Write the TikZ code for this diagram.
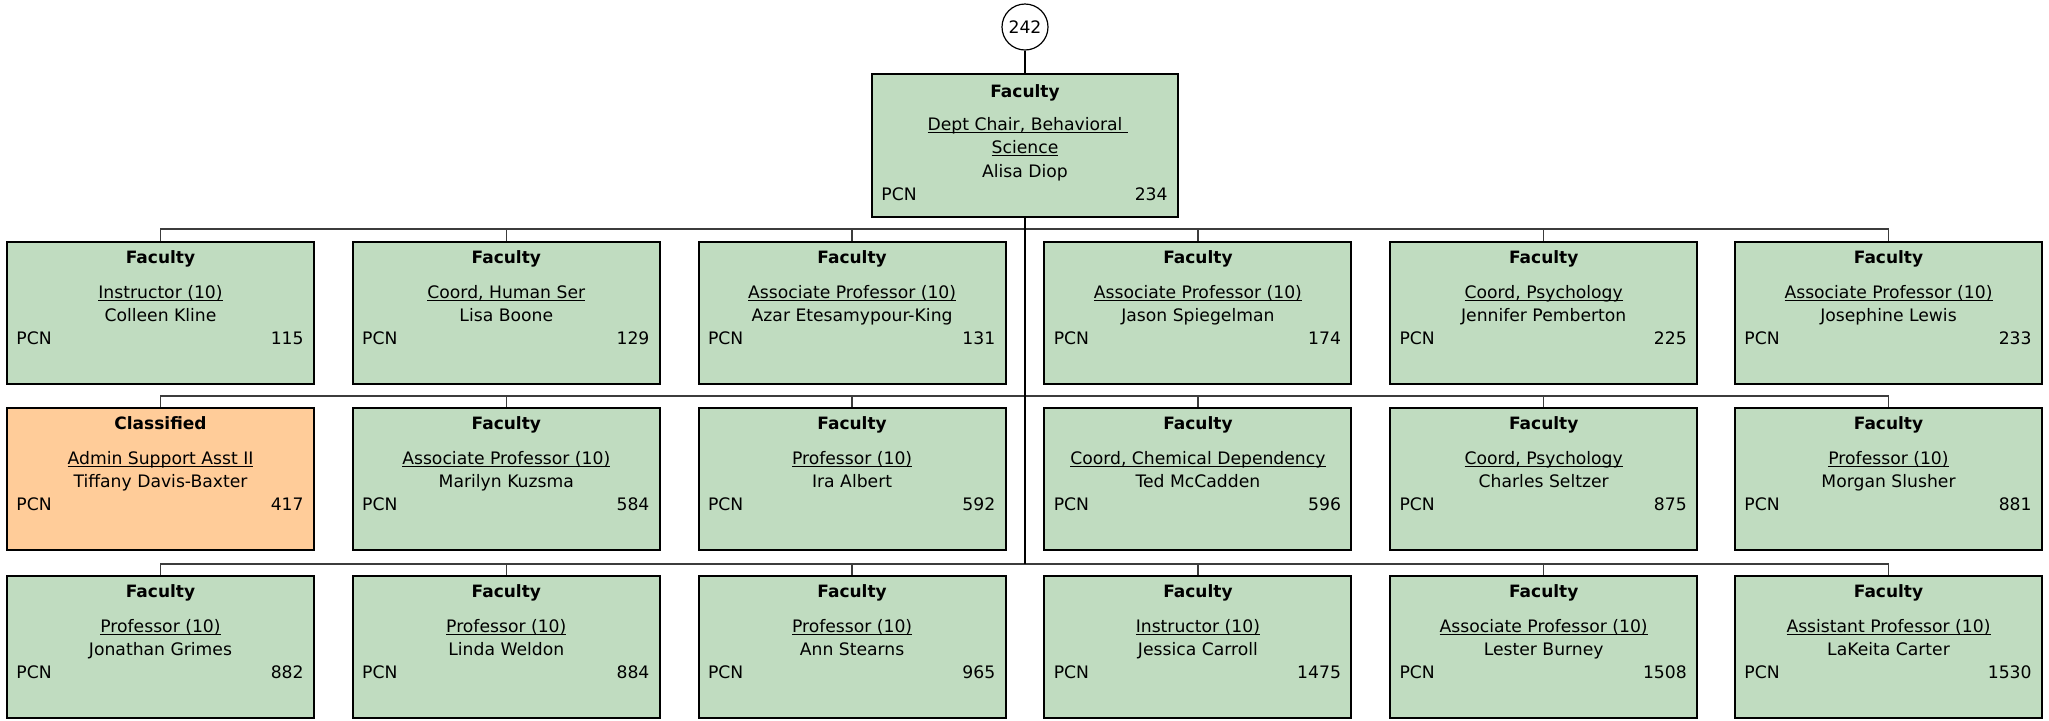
\documentclass[tikz,border=0pt]{standalone}
\usepackage{fontspec}
\setmainfont{DejaVu Sans}
\usetikzlibrary{calc}
\definecolor{boxgreen}{RGB}{192,220,192}
\definecolor{boxorange}{RGB}{255,204,153}
\definecolor{busgray}{RGB}{60,60,60}
\newlength\ulw
\newcommand\myul[1]{\settowidth\ulw{#1}\rlap{\rule[-1.5pt]{\ulw}{0.5pt}}#1}
\tikzset{
  posbox/.style={draw=black, line width=1pt, fill=boxgreen, minimum width=153.5pt, minimum height=71pt, inner sep=0pt, anchor=north},
  clsbox/.style={posbox, fill=boxorange},
  cattext/.style={font=\fontsize{8.5}{10}\selectfont\bfseries, anchor=base, inner sep=0pt},
  bodytext/.style={font=\fontsize{8.6}{10}\selectfont, anchor=base, inner sep=0pt},
  pcnl/.style={bodytext, anchor=base west},
  pcnr/.style={bodytext, anchor=base east},
  bus/.style={draw=busgray, line width=0.75pt},
  trunk/.style={draw=black, line width=1pt},
}
% #1 name, #2 x, #3 top y, #4 style, #5 category, #6 title, #7 person, #8 pcn
\newcommand\posnode[8]{%
  \node[#4] (#1) at (#2,#3) {};
  \node[cattext] (#1c) at ($(#1.north)+(0,22)$) {#5};
  \node[bodytext] (#1t) at ($(#1.north)+(0,57)$) {\myul{#6}};
  \node[bodytext] (#1n) at ($(#1.north)+(0,80)$) {#7};
  \node[pcnl] (#1p) at ($(#1.north west)+(10,103)$) {PCN};
  \node[pcnr] (#1v) at ($(#1.north east)+(-11,103)$) {#8};
}
\begin{document}
\begin{tikzpicture}[x=0.5pt,y=-0.5pt]
\useasboundingbox (0,0) rectangle (2049,720);
% circle
\node[draw=black, line width=0.6pt, circle, minimum size=23pt, inner sep=0pt, font=\fontsize{8.6}{10}\selectfont] (circ) at (1025,27) {242};
% top box
\node[posbox, minimum width=153pt, minimum height=71.5pt] (top) at (1025,73) {};
\node[cattext] (topc) at ($(top.north)+(0,24)$) {Faculty};
\node[bodytext] (topt1) at ($(top.north)+(0,57)$) {\myul{Dept Chair, Behavioral\ }};
\node[bodytext] (topt2) at ($(top.north)+(0,80)$) {\myul{Science}};
\node[bodytext] (topn) at ($(top.north)+(0,104)$) {Alisa Diop};
\node[pcnl] (topp) at ($(top.north west)+(10,127)$) {PCN};
\node[pcnr] (topv) at ($(top.north east)+(-11,127)$) {234};
% row 1
\posnode{a1}{160.5}{241}{posbox}{Faculty}{Instructor (10)}{Colleen Kline}{115}
\posnode{a2}{506.3}{241}{posbox}{Faculty}{Coord, Human Ser}{Lisa Boone}{129}
\posnode{a3}{852.1}{241}{posbox}{Faculty}{Associate Professor (10)}{Azar Etesamypour-King}{131}
\posnode{a4}{1197.9}{241}{posbox}{Faculty}{Associate Professor (10)}{Jason Spiegelman}{174}
\posnode{a5}{1543.7}{241}{posbox}{Faculty}{Coord, Psychology}{Jennifer Pemberton}{225}
\posnode{a6}{1888.5}{241}{posbox}{Faculty}{Associate Professor (10)}{Josephine Lewis}{233}
% row 2
\posnode{b1}{160.5}{407}{clsbox}{Classified}{Admin Support Asst II}{Tiffany Davis-Baxter}{417}
\posnode{b2}{506.3}{407}{posbox}{Faculty}{Associate Professor (10)}{Marilyn Kuzsma}{584}
\posnode{b3}{852.1}{407}{posbox}{Faculty}{Professor (10)}{Ira Albert}{592}
\posnode{b4}{1197.9}{407}{posbox}{Faculty}{Coord, Chemical Dependency}{Ted McCadden}{596}
\posnode{b5}{1543.7}{407}{posbox}{Faculty}{Coord, Psychology}{Charles Seltzer}{875}
\posnode{b6}{1888.5}{407}{posbox}{Faculty}{Professor (10)}{Morgan Slusher}{881}
% row 3
\posnode{c1}{160.5}{575}{posbox}{Faculty}{Professor (10)}{Jonathan Grimes}{882}
\posnode{c2}{506.3}{575}{posbox}{Faculty}{Professor (10)}{Linda Weldon}{884}
\posnode{c3}{852.1}{575}{posbox}{Faculty}{Professor (10)}{Ann Stearns}{965}
\posnode{c4}{1197.9}{575}{posbox}{Faculty}{Instructor (10)}{Jessica Carroll}{1475}
\posnode{c5}{1543.7}{575}{posbox}{Faculty}{Associate Professor (10)}{Lester Burney}{1508}
\posnode{c6}{1888.5}{575}{posbox}{Faculty}{Assistant Professor (10)}{LaKeita Carter}{1530}
% connectors
\coordinate (busa) at (1025,229);
\coordinate (busb) at (1025,396);
\coordinate (busc) at (1025,564);
\foreach \r/\bb in {a/busa,b/busb,c/busc}{
  \draw[bus] (\r1.north) |- (\bb) -| (\r6.north);
  \foreach \i in {2,...,5}{
    \draw[bus] (\r\i.north) -- (\r\i.north |- \bb);
  }
}
\draw[trunk] (circ.south) -- (top.north);
\draw[trunk] (top.south) -- (busc);
\end{tikzpicture}
\end{document}
